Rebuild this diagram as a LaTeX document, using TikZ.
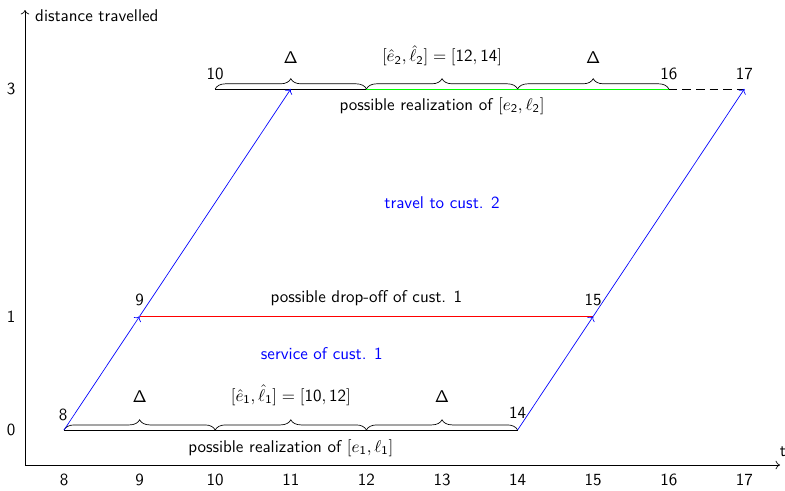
\documentclass[tikz,border=0pt]{standalone}
\usetikzlibrary{decorations.pathreplacing,arrows.meta}
\begin{document}
\begin{tikzpicture}[x=44.47pt,y=66.88pt,font=\sffamily,
  >={To[length=2.6pt,width=5pt]},
  travel/.style={blue,->},
  bracedeco/.style={decorate,decoration={brace,amplitude=6pt}},
  bluetxt/.style={text=blue}]
\useasboundingbox (7.1534,-0.5277) rectangle (17.537,3.782);
% axes
\coordinate (O) at (7.484,-0.308);
\coordinate (Xend) at (17.471,-0.308);
\coordinate (Yend) at (7.484,3.694);
\draw[->] (O) -- (Xend);
\draw[->] (O) -- (Yend);
\node[anchor=west] (ylab) at (7.54,3.641) {distance travelled};
\node (xlab) at (17.511,-0.193) {t};
\foreach \i in {8,...,17} \node (tx\i) at (\i,-0.44) {\i};
\node (ty0) at (7.299,0) {0};
\node (ty1) at (7.299,1) {1};
\node (ty3) at (7.299,3) {3};
% points
\coordinate (p8) at (8,0);
\coordinate (p10b) at (10,0);
\coordinate (p12b) at (12,0);
\coordinate (p14) at (14,0);
\coordinate (p9) at (9,1);
\coordinate (p15) at (15,1);
\coordinate (p10) at (10,3);
\coordinate (p11) at (11,3);
\coordinate (p12t) at (12,3);
\coordinate (p14t) at (14,3);
\coordinate (p16) at (16,3);
\coordinate (p17) at (17,3);
% bottom interval
\draw (p8) -- (p14);
\draw[bracedeco] (p8) -- (p10b);
\draw[bracedeco] (p10b) -- (p12b);
\draw[bracedeco] (p12b) -- (p14);
% top interval
\draw (p10) -- (p12t);
\draw[green] (p12t) -- (p16);
\draw[dash pattern=on 5pt off 3pt] (p16) -- (p17);
\draw[bracedeco] (p10) -- (p12t);
\draw[bracedeco] (p12t) -- (p14t);
\draw[bracedeco] (p14t) -- (p16);
% drop-off
\draw[red] (p9) -- (p15);
% travel
\draw[travel] (p8) -- (p9);
\draw[travel] (p9) -- (p11);
\draw[travel] (p14) -- (p15);
\draw[travel] (p15) -- (p17);
% labels
\node (d1) at (9,0.29) {$\mathsf{\Delta}$};
\node (d2) at (13,0.29) {$\mathsf{\Delta}$};
\node (d3) at (11,3.272) {$\mathsf{\Delta}$};
\node (d4) at (15,3.272) {$\mathsf{\Delta}$};
\node (w1) at (11,0.308) {$[\hat{e}_{\mathsf{1}}, \hat{\ell}_{\mathsf{1}}] = [\mathsf{10}, \mathsf{12}]$};
\node (w2) at (13,3.29) {$[\hat{e}_{\mathsf{2}}, \hat{\ell}_{\mathsf{2}}] = [\mathsf{12}, \mathsf{14}]$};
\node (l8) at (7.987,0.132) {8};
\node (l14) at (14,0.15) {14};
\node (l9) at (9,1.143) {9};
\node (l15) at (15,1.143) {15};
\node (l10) at (10,3.131) {10};
\node (l16) at (16,3.131) {16};
\node (l17) at (17,3.131) {17};
\node (r1) at (11,-0.158) {possible realization of $[e_{\mathsf{1}}, \ell_{\mathsf{1}}]$};
\node (r2) at (13,2.85) {possible realization of $[e_{\mathsf{2}}, \ell_{\mathsf{2}}]$};
\node (drop) at (12,1.16) {possible drop-off of cust. 1};
\node[bluetxt] (trav) at (13,2.0) {travel to cust. 2};
\node[bluetxt] (serv) at (11.41,0.668) {service of cust. 1};
\end{tikzpicture}
\end{document}
